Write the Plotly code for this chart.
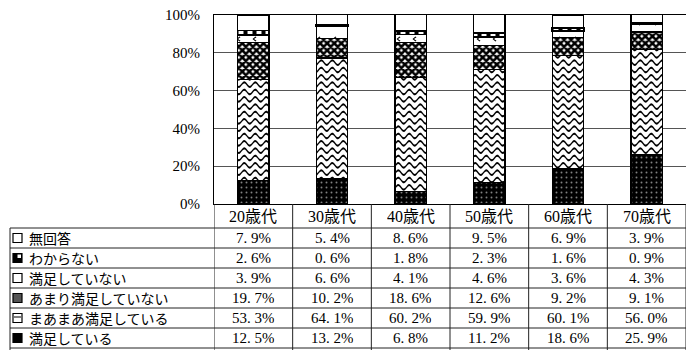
import math
import plotly.graph_objects as go

# Age groups and answer shares (%)
ages = ["20歳代", "30歳代", "40歳代", "50歳代", "60歳代", "70歳代"]
satisfied = [12.5, 13.2, 6.8, 11.2, 18.6, 25.9]          # 満足している
fairly_satisfied = [53.3, 64.1, 60.2, 59.9, 60.1, 56.0]  # まあまあ満足している
not_very = [19.7, 10.2, 18.6, 12.6, 9.2, 9.1]            # あまり満足していない
not_satisfied = [3.9, 6.6, 4.1, 4.6, 3.6, 4.3]           # 満足していない
dont_know = [2.6, 0.6, 1.8, 2.3, 1.6, 0.9]               # わからない
no_answer = [7.9, 5.4, 8.6, 9.5, 6.9, 3.9]               # 無回答
y_ticks = [0, 20, 40, 60, 80, 100]
y_tick_text = ["0%", "20%", "40%", "60%", "80%", "100%"]

# Canvas geometry (pixels)
W, H = 686, 350
L, T, B = 214, 15, 146
PW, PH = W - L, H - T - B
BASE = H - B


def pxx(x):
    return (x - L) / PW


def pxy(y):
    return (BASE - y) / PH


# Wavy-line tile for the "まあまあ満足している" fill
def wave_path(size=22, period=11, rows=3, amp=2.3, thick=2.1):
    parts = []
    n = int(size)
    for r in range(rows):
        y0 = size * (r + 0.5) / rows
        top = [(x, y0 + amp * math.sin(2 * math.pi * x / period) - thick / 2) for x in range(n + 1)]
        bot = [(x, y0 + amp * math.sin(2 * math.pi * x / period) + thick / 2) for x in range(n, -1, -1)]
        pts = top + bot
        d = "M" + " L".join(f"{x:.2f},{y:.2f}" for x, y in pts) + " Z"
        parts.append(d)
    return " ".join(parts)


def chevron_path(size=16):
    c = size / 2
    return (f"M{c+1.5:.1f},{c-2.5:.1f} L{c-1.5:.1f},{c:.1f} L{c+1.5:.1f},{c+2.5:.1f} "
            f"L{c+2.5:.1f},{c+1.8:.1f} L{c:.1f},{c:.1f} L{c+2.5:.1f},{c-1.8:.1f} Z")


outline = dict(color="black", width=1.2)

series = [
    ("満足している", satisfied,
     dict(color="black", line=outline,
          pattern=dict(shape=".", fillmode="overlay", fgcolor="white", size=5, solidity=0.12))),
    ("まあまあ満足している", fairly_satisfied,
     dict(color="white", line=outline,
          pattern=dict(path=wave_path(), fillmode="overlay", fgcolor="black",
                       fgopacity=1, size=22))),
    ("あまり満足していない", not_very,
     dict(color="white", line=outline,
          pattern=dict(shape="x", fillmode="overlay", fgcolor="black", fgopacity=1,
                       size=5, solidity=0.75))),
    ("満足していない", not_satisfied,
     dict(color="white", line=outline,
          pattern=dict(path=chevron_path(), fillmode="overlay", fgcolor="black",
                       fgopacity=1, size=16))),
    ("わからない", dont_know,
     dict(color="white", line=dict(color="black", width=1.6),
          pattern=dict(shape="|", fillmode="overlay", fgcolor="black", fgopacity=1,
                       size=9, solidity=0.45))),
    ("無回答", no_answer,
     dict(color="white", line=outline)),
]

fig = go.Figure()
for name, vals, marker in series:
    fig.add_trace(go.Bar(x=ages, y=vals, name=name, width=0.4, marker=marker,
                         showlegend=False))

num_font = dict(family="Liberation Serif, Noto Sans CJK JP", size=15, color="black")
lab_font = dict(family="Noto Sans CJK JP", size=14, color="black")

shapes = []
annotations = []

# Data table below the axis
header_bottom = 228
row_h = 20
table_rows = list(reversed(series))  # 無回答 first
table_bottom = H

line_style = dict(color="#222", width=1)

# vertical column dividers at category boundaries
for i in range(len(ages) + 1):
    shapes.append(dict(type="line", xref="x", yref="paper",
                       x0=i - 0.5, x1=i - 0.5, y0=pxy(BASE), y1=pxy(table_bottom),
                       line=line_style))
# left border of the label column
shapes.append(dict(type="line", xref="paper", yref="paper",
                   x0=pxx(10), x1=pxx(10), y0=pxy(header_bottom), y1=pxy(table_bottom),
                   line=line_style))
# horizontal row lines
for k in range(len(table_rows) + 1):
    yy = header_bottom + k * row_h
    shapes.append(dict(type="line", xref="paper", yref="paper",
                       x0=pxx(10), x1=1, y0=pxy(yy), y1=pxy(yy), line=line_style))

# column headers
for a in ages:
    annotations.append(dict(x=a, y=pxy((BASE + header_bottom) / 2), xref="x", yref="paper",
                            text=a, showarrow=False, font=dict(num_font, size=16),
                            xanchor="center", yanchor="middle", height=20))

# legend keys drawn as small boxes
def key_box(yc, fill):
    return dict(type="rect", xref="paper", yref="paper",
                x0=pxx(13), x1=pxx(22), y0=pxy(yc - 4.5), y1=pxy(yc + 4.5),
                fillcolor=fill, line=dict(color="black", width=1.2))

for k, (name, vals, marker) in enumerate(table_rows):
    yc = header_bottom + k * row_h + row_h / 2
    annotations.append(dict(x=pxx(27), y=pxy(yc), xref="paper", yref="paper",
                            text=name, showarrow=False, font=lab_font,
                            xanchor="left", yanchor="middle", height=18))
    for a, v in zip(ages, vals):
        annotations.append(dict(x=a, y=pxy(yc), xref="x", yref="paper",
                                text=f"{v:.1f}%".replace(".", ". "), showarrow=False,
                                font=num_font, xanchor="center", yanchor="middle",
                                height=18))
    if name == "わからない":
        shapes.append(key_box(yc, "black"))
        shapes.append(dict(type="rect", xref="paper", yref="paper",
                           x0=pxx(17.5), x1=pxx(21), y0=pxy(yc - 3.5), y1=pxy(yc),
                           fillcolor="white", line=dict(width=0)))
    elif name == "あまり満足していない":
        shapes.append(key_box(yc, "#555"))
    elif name == "満足している":
        shapes.append(key_box(yc, "black"))
    elif name == "まあまあ満足している":
        shapes.append(key_box(yc, "white"))
        shapes.append(dict(type="line", xref="paper", yref="paper",
                           x0=pxx(14), x1=pxx(21), y0=pxy(yc - 1), y1=pxy(yc - 1),
                           line=dict(color="black", width=1)))
    else:
        shapes.append(key_box(yc, "white"))

fig.update_layout(
    width=W, height=H,
    margin=dict(l=L, r=0, t=T, b=B, pad=0),
    barmode="stack",
    paper_bgcolor="white",
    plot_bgcolor="white",
    shapes=shapes,
    annotations=annotations,
    xaxis=dict(type="category", showticklabels=False, ticks="", showgrid=False,
               showline=True, linecolor="black", linewidth=1.2, mirror=True,
               range=[-0.5, len(ages) - 0.5], fixedrange=True),
    yaxis=dict(range=[0, 100], tickvals=y_ticks, ticktext=y_tick_text,
               showgrid=True, gridcolor="#555", gridwidth=1, zeroline=False,
               showline=True, linecolor="black", linewidth=1.2,
               ticks="", ticklabelstandoff=10,
               tickfont=dict(family="Liberation Serif", size=15, color="black"),
               fixedrange=True),
)

fig.write_html("out.html")
